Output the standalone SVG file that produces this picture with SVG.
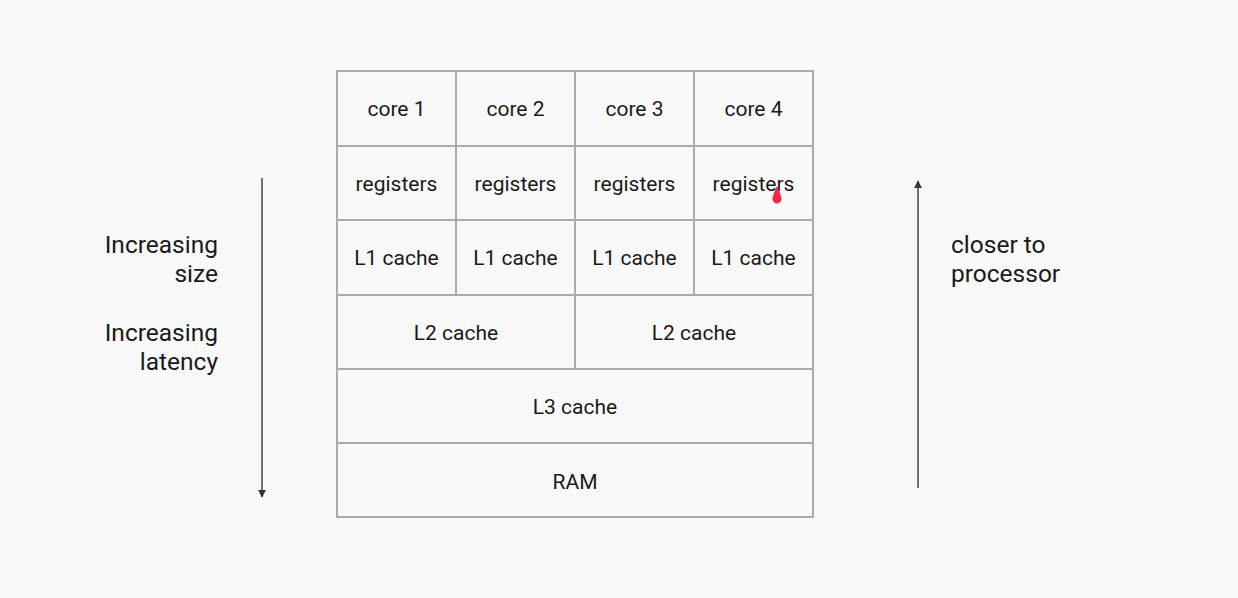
<svg xmlns="http://www.w3.org/2000/svg" width="1238" height="598" viewBox="0 0 1238 598">
<defs>
<style>
.cell{fill:#f8f8f8;stroke:#ababab;stroke-width:2}
.t{font-family:Roboto,"Liberation Sans",sans-serif;font-size:21px;fill:#1a1a1a;text-anchor:middle}
.lbl{font-family:Roboto,"Liberation Sans",sans-serif;font-size:24.5px;fill:#1a1a1a}
.ln{stroke:#444;stroke-width:1.5;fill:none}
</style>
<marker id="ah" viewBox="0 0 10 10" refX="9" refY="5" markerWidth="8" markerHeight="8" markerUnits="userSpaceOnUse" orient="auto">
<path d="M0,0 L10,5 L0,10 z" fill="#333"/>
</marker>
</defs>
<rect width="1238" height="598" fill="#f8f8f8"/>
<g id="core1"><rect class="cell" x="337" y="71" width="119" height="75"/><text class="t" x="396.5" y="116">core 1</text></g>
<g id="core2"><rect class="cell" x="456" y="71" width="119" height="75"/><text class="t" x="515.5" y="116">core 2</text></g>
<g id="core3"><rect class="cell" x="575" y="71" width="119" height="75"/><text class="t" x="634.5" y="116">core 3</text></g>
<g id="core4"><rect class="cell" x="694" y="71" width="119" height="75"/><text class="t" x="753.5" y="116">core 4</text></g>
<g id="reg1"><rect class="cell" x="337" y="146" width="119" height="74"/><text class="t" x="396.5" y="190.5">registers</text></g>
<g id="reg2"><rect class="cell" x="456" y="146" width="119" height="74"/><text class="t" x="515.5" y="190.5">registers</text></g>
<g id="reg3"><rect class="cell" x="575" y="146" width="119" height="74"/><text class="t" x="634.5" y="190.5">registers</text></g>
<g id="reg4"><rect class="cell" x="694" y="146" width="119" height="74"/><text class="t" x="753.5" y="190.5">registers</text></g>
<g id="l1a"><rect class="cell" x="337" y="220" width="119" height="75"/><text class="t" x="396.5" y="265">L1 cache</text></g>
<g id="l1b"><rect class="cell" x="456" y="220" width="119" height="75"/><text class="t" x="515.5" y="265">L1 cache</text></g>
<g id="l1c"><rect class="cell" x="575" y="220" width="119" height="75"/><text class="t" x="634.5" y="265">L1 cache</text></g>
<g id="l1d"><rect class="cell" x="694" y="220" width="119" height="75"/><text class="t" x="753.5" y="265">L1 cache</text></g>
<g id="l2a"><rect class="cell" x="337" y="295" width="238" height="74"/><text class="t" x="456" y="339.5">L2 cache</text></g>
<g id="l2b"><rect class="cell" x="575" y="295" width="238" height="74"/><text class="t" x="694" y="339.5">L2 cache</text></g>
<g id="l3"><rect class="cell" x="337" y="369" width="476" height="74"/><text class="t" x="575" y="414">L3 cache</text></g>
<g id="ram"><rect class="cell" x="337" y="443" width="476" height="74"/><text class="t" x="575" y="488.5">RAM</text></g>
<g id="connectors">
<line class="ln" x1="262" y1="178" x2="262" y2="497" marker-end="url(#ah)"/>
<line class="ln" x1="918" y1="488" x2="918" y2="181" marker-end="url(#ah)"/>
</g>
<g id="left-labels">
<text class="lbl" x="218" y="253" text-anchor="end">Increasing</text>
<text class="lbl" x="218" y="282" text-anchor="end">size</text>
<text class="lbl" x="218" y="341" text-anchor="end">Increasing</text>
<text class="lbl" x="218" y="370" text-anchor="end">latency</text>
</g>
<g id="right-labels">
<text class="lbl" x="951" y="253">closer to</text>
<text class="lbl" x="951" y="282">processor</text>
</g>
<path d="M776,187 L778,187 L781.5,198 A4.6,4.6 0 1 1 772.5,198 Z" fill="#f0103a" opacity="0.9"/>
</svg>
